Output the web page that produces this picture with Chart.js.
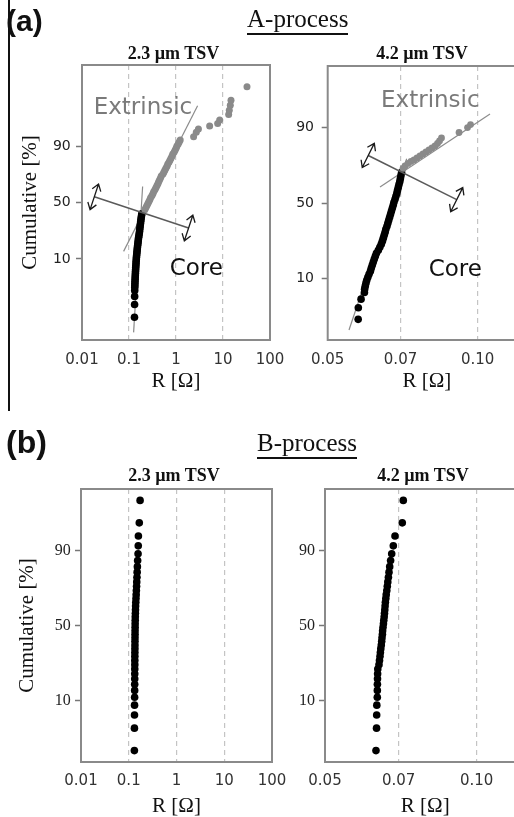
<!DOCTYPE html>
<html>
<head>
<meta charset="utf-8">
<script src="https://cdn.jsdelivr.net/npm/chart.js@4.4.1/dist/chart.umd.min.js"></script>
<style>
  body { margin: 0; background: #fff; overflow: hidden; }
  #page { position: relative; width: 514px; height: 817px; overflow: hidden; background: #fff; }
  canvas { position: absolute; }
  .txt { position: absolute; white-space: nowrap; line-height: 1; color: #111; }
  .panel { font-family: "Liberation Sans", Arial, sans-serif; font-weight: bold; }
  .proc { font: 25px "Liberation Serif", serif; }
  .sub { font: bold 18px "Liberation Serif", serif; transform: translateX(-50%); }
  .rule { position: absolute; background: #111; }
</style>
</head>
<body>
<div id="page">
  <canvas id="a23" width="290" height="400" style="left:0;top:0"></canvas>
  <canvas id="a42" width="240" height="400" style="left:290px;top:0"></canvas>
  <canvas id="b23" width="290" height="417" style="left:0;top:400px"></canvas>
  <canvas id="b42" width="240" height="417" style="left:290px;top:400px"></canvas>

  <div class="rule" style="left:8px;top:0;width:1.5px;height:411px"></div>
  <div class="txt panel" style="left:6px;top:6px;font-size:30px">(a)</div>
  <div class="txt proc" style="left:247px;top:5px">A-process</div>
  <div class="rule" style="left:247px;top:32.5px;width:101px;height:2px"></div>
  <div class="txt sub" style="left:173.5px;top:42.5px">2.3 µm TSV</div>
  <div class="txt sub" style="left:422px;top:42.5px">4.2 µm TSV</div>

  <div class="txt panel" style="left:6px;top:426px;font-size:32px">(b)</div>
  <div class="txt proc" style="left:257px;top:429px">B-process</div>
  <div class="rule" style="left:257px;top:456.5px;width:100px;height:2.5px"></div>
  <div class="txt sub" style="left:174px;top:465px">2.3 µm TSV</div>
  <div class="txt sub" style="left:423px;top:465px">4.2 µm TSV</div>
</div>

<script>
// tick positions
const yTicks = [10, 50, 90];
const xTicksWide = [0.01, 0.1, 1, 10, 100];
const xTicksNarrow = [0.05, 0.07, 0.10];

// A-process, 2.3 um TSV: core population (black) and extrinsic tail (gray)
const aCoreR23 = [0.1308, 0.1314, 0.1318, 0.1323, 0.1327, 0.1331, 0.1336, 0.1341, 0.1349, 0.1354, 0.1360, 0.1369, 0.1374, 0.1383, 0.1390, 0.1400, 0.1410, 0.1417, 0.1428, 0.1439, 0.1450, 0.1467, 0.1479, 0.1495, 0.1507, 0.1526, 0.1545, 0.1563, 0.1579, 0.1600, 0.1626, 0.1646, 0.1674, 0.1688, 0.1708, 0.1729, 0.1750, 0.1772, 0.1794, 0.1816, 0.1846, 0.1870];
const aCoreCum23 = [0.46, 1.03, 1.65, 2.28, 2.68, 2.97, 3.29, 3.64, 4.02, 4.42, 4.86, 5.34, 5.85, 6.39, 6.98, 7.61, 8.27, 8.99, 9.74, 10.55, 11.39, 12.29, 13.23, 14.23, 15.27, 16.36, 17.50, 18.70, 19.94, 21.22, 22.56, 23.94, 25.37, 26.84, 28.35, 29.91, 31.49, 33.12, 34.78, 36.46, 38.17, 39.91];
const aExtR23 = [0.2169, 0.2277, 0.2391, 0.2512, 0.2638, 0.2771, 0.2880, 0.3070, 0.3225, 0.3350, 0.3560, 0.3737, 0.3920, 0.4120, 0.4280, 0.4460, 0.4680, 0.4860, 0.5290, 0.5550, 0.5830, 0.6130, 0.6470, 0.6700, 0.7130, 0.7490, 0.7870, 0.8260, 0.8560, 0.9160, 0.9620, 1.010, 1.048, 1.114, 1.170, 1.229, 2.37, 2.70, 3.00, 5.20, 7.70, 8.50, 13.2, 13.6, 14.3, 14.8, 32.4];
const aExtCum23 = [43.44, 45.23, 47.02, 48.83, 50.63, 52.44, 54.23, 56.02, 57.80, 59.56, 61.31, 63.03, 64.72, 66.39, 68.02, 69.62, 71.19, 72.71, 74.19, 75.63, 77.03, 78.38, 79.68, 80.94, 82.14, 83.30, 84.41, 85.46, 86.47, 87.43, 88.34, 89.21, 90.02, 90.79, 91.52, 92.20, 93.23, 94.44, 95.22, 95.87, 96.37, 96.93, 97.72, 98.20, 98.64, 98.99, 99.57];
const aExtFitR23 = [0.0767, 2.88], aExtFitCum23 = [13.37, 98.59];
const aCoreFitR23 = [0.1253, 0.1948], aCoreFitCum23 = [0.16, 64.13];
const aCrossR23 = [0.01828, 1.854], aCrossCum23 = [55.13, 28.13];

// A-process, 4.2 um TSV
const aCoreR42 = [0.05756, 0.05760, 0.05833, 0.05925, 0.05930, 0.05947, 0.05966, 0.05988, 0.06018, 0.06052, 0.06090, 0.06114, 0.06142, 0.06170, 0.06199, 0.06230, 0.06262, 0.06317, 0.06361, 0.06405, 0.06438, 0.06465, 0.06492, 0.06519, 0.06540, 0.06574, 0.06601, 0.06628, 0.06656, 0.06684, 0.06711, 0.06739, 0.06767, 0.06790, 0.06824, 0.06852, 0.06881, 0.06903, 0.06928, 0.06951, 0.06977, 0.06996, 0.07015, 0.07035];
const aCoreCum42 = [2.41, 3.76, 5.13, 6.44, 7.18, 7.90, 8.67, 9.50, 10.39, 11.34, 12.35, 13.41, 14.54, 15.74, 16.99, 18.31, 19.68, 21.12, 22.62, 24.18, 25.80, 27.47, 29.18, 30.95, 32.77, 34.62, 36.52, 38.44, 40.40, 42.38, 44.38, 46.39, 48.41, 50.44, 52.47, 54.49, 56.49, 58.48, 60.45, 62.40, 64.31, 66.19, 68.02, 69.82];
const aExtR42 = [0.07081, 0.07147, 0.07246, 0.07347, 0.07450, 0.07554, 0.07659, 0.07766, 0.07874, 0.07984, 0.08096, 0.08209, 0.08304, 0.08381, 0.08459, 0.09174, 0.09541, 0.09674];
const aExtCum42 = [72.14, 73.54, 74.91, 75.98, 76.76, 77.78, 78.78, 79.75, 80.69, 81.60, 82.49, 83.35, 84.39, 85.38, 86.51, 88.43, 90.00, 90.86];
const aExtFitR42 = [0.06367, 0.10585], aExtFitCum42 = [60.65, 93.49];
const aCoreFitR42 = [0.05517, 0.07203], aCoreFitCum42 = [1.55, 77.38];
const aCrossR42 = [0.06031, 0.09076], aCrossCum42 = [79.02, 52.26];

// B-process: 42 TSVs per size, median-rank positions
const bCum = [1.65, 4.01, 6.37, 8.73, 11.08, 13.44, 15.80, 18.16, 20.52, 22.88, 25.24, 27.59, 29.95, 32.31, 34.67, 37.03, 39.39, 41.75, 44.10, 46.46, 48.82, 51.18, 53.54, 55.90, 58.25, 60.61, 62.97, 65.33, 67.69, 70.05, 72.41, 74.76, 77.12, 79.48, 81.84, 84.20, 86.56, 88.92, 91.27, 93.63, 95.99, 98.35];
const bR23 = [0.1312, 0.1316, 0.1319, 0.1322, 0.1327, 0.1330, 0.1332, 0.1334, 0.1335, 0.1337, 0.1339, 0.1340, 0.1342, 0.1344, 0.1346, 0.1348, 0.1350, 0.1352, 0.1354, 0.1356, 0.1359, 0.1362, 0.1366, 0.1370, 0.1378, 0.1385, 0.1392, 0.1404, 0.1418, 0.1430, 0.1444, 0.1458, 0.1470, 0.1486, 0.1500, 0.1515, 0.1535, 0.1566, 0.1582, 0.1593, 0.1662, 0.1728];
const bR42 = [0.06312, 0.06328, 0.06332, 0.06336, 0.06350, 0.06351, 0.06353, 0.06356, 0.06359, 0.06364, 0.06399, 0.06414, 0.06429, 0.06440, 0.06452, 0.06467, 0.06479, 0.06488, 0.06500, 0.06506, 0.06518, 0.06530, 0.06541, 0.06553, 0.06562, 0.06571, 0.06580, 0.06589, 0.06602, 0.06614, 0.06632, 0.06647, 0.06662, 0.06681, 0.06699, 0.06720, 0.06748, 0.06782, 0.06832, 0.06885, 0.07118, 0.07151];

// inverse standard normal CDF (Acklam)
function probit(p) {
  const a = [-39.69683028665376, 220.9460984245205, -275.9285104469687, 138.3577518672690, -30.66479806614716, 2.506628277459239];
  const b = [-54.47609879822406, 161.5858368580409, -155.6989798598866, 66.80131188771972, -13.28068155288572];
  const c = [-0.007784894002430293, -0.3223964580411365, -2.400758277161838, -2.549732539343734, 4.374664141464968, 2.938163982698783];
  const d = [0.007784695709041462, 0.3224671290700398, 2.445134137142996, 3.754408661907416];
  const tail = q => (((((c[0] * q + c[1]) * q + c[2]) * q + c[3]) * q + c[4]) * q + c[5]) /
                    ((((d[0] * q + d[1]) * q + d[2]) * q + d[3]) * q + 1);
  if (p < 0.02425) return tail(Math.sqrt(-2 * Math.log(p)));
  if (p > 0.97575) return -tail(Math.sqrt(-2 * Math.log(1 - p)));
  const q = p - 0.5, r = q * q;
  return (((((a[0] * r + a[1]) * r + a[2]) * r + a[3]) * r + a[4]) * r + a[5]) * q /
         (((((b[0] * r + b[1]) * r + b[2]) * r + b[3]) * r + b[4]) * r + 1);
}

function normCdf(z) {
  const t = 1 / (1 + 0.3275911 * Math.abs(z) / Math.SQRT2);
  const e = 1 - (((((1.061405429 * t - 1.453152027) * t + 1.421413741) * t - 0.284496736) * t + 0.254829592) * t) * Math.exp(-z * z / 2);
  return z >= 0 ? (1 + e) / 2 : (1 - e) / 2;
}

// normal probability axis, values in percent
class ProbabilityScale extends Chart.Scale {
  static id = 'probability';
  static defaults = {};
  determineDataLimits() {
    this.min = this.options.min;
    this.max = this.options.max;
  }
  buildTicks() { return []; }
  getLabelForValue(v) { return String(v); }
  configure() {
    super.configure();
    this._zMin = probit(this.min / 100);
    this._zMax = probit(this.max / 100);
  }
  getPixelForValue(v) {
    if (v === null || v === undefined || isNaN(v)) return NaN;
    const z = probit(v / 100);
    return this.getPixelForDecimal((z - this._zMin) / (this._zMax - this._zMin));
  }
  getValueForPixel(px) {
    const dec = this.getDecimalForPixel(px);
    return 100 * normCdf(this._zMin + dec * (this._zMax - this._zMin));
  }
}
Chart.register(ProbabilityScale);

const pts = (rs, cums) => rs.map((r, i) => ({ x: r, y: cums[i] }));

function dots(rs, cums, color, radius, order) {
  return { data: pts(rs, cums), pointRadius: radius, pointHoverRadius: radius,
           pointBackgroundColor: color, pointBorderWidth: 0, order };
}
function line(rs, cums, color, width, order) {
  return { data: pts(rs, cums), showLine: true, pointRadius: 0, borderColor: color,
           borderWidth: width, fill: false, order };
}

function doubleArrow(ctx, cx, cy, ux, uy, half) {
  const head = (hx, hy, dx, dy) => {
    const h = 6.5, w = 4.5;
    ctx.moveTo(hx - dx * h - dy * w, hy - dy * h + dx * w);
    ctx.lineTo(hx, hy);
    ctx.lineTo(hx - dx * h + dy * w, hy - dy * h - dx * w);
  };
  const x1 = cx - ux * half, y1 = cy - uy * half, x2 = cx + ux * half, y2 = cy + uy * half;
  ctx.beginPath();
  ctx.moveTo(x1, y1);
  ctx.lineTo(x2, y2);
  head(x2, y2, ux, uy);
  head(x1, y1, -ux, -uy);
  ctx.stroke();
}

// plot frame, arrows on the cross line, Extrinsic/Core labels
function overlay(notes) {
  return {
    id: 'overlay',
    afterDatasetsDraw(chart) {
      const { ctx, chartArea: a, scales: { x, y } } = chart;
      ctx.save();
      ctx.strokeStyle = '#8a8a8a';
      ctx.lineWidth = 2;
      ctx.strokeRect(a.left, a.top, a.right - a.left, a.bottom - a.top);
      if (notes.cross !== undefined) {
        const [p, q] = chart.getDatasetMeta(notes.cross).data;
        const dx = q.x - p.x, dy = q.y - p.y, len = Math.hypot(dx, dy);
        ctx.strokeStyle = '#1a1a1a';
        ctx.lineWidth = 1.3;
        [p, q].forEach(e => doubleArrow(ctx, e.x, e.y, -dy / len, dx / len, 13.5));
      }
      ctx.font = '23px "DejaVu Sans"';
      ctx.textAlign = 'left';
      ctx.textBaseline = 'alphabetic';
      (notes.labels || []).forEach(l => {
        ctx.fillStyle = l.color;
        ctx.fillText(l.text, x.getPixelForValue(l.r), y.getPixelForValue(l.cum));
      });
      ctx.restore();
    }
  };
}

const serif = size => ({ family: 'Liberation Serif', size, lineHeight: 1 });

function makeChart(id, o) {
  return new Chart(document.getElementById(id), {
    type: 'scatter',
    data: { datasets: o.datasets },
    options: {
      responsive: false,
      animation: false,
      events: [],
      devicePixelRatio: 1,
      layout: { padding: o.pad },
      plugins: { legend: { display: false }, tooltip: { enabled: false } },
      scales: {
        x: {
          type: 'logarithmic',
          min: o.xMin,
          max: o.xMax,
          afterBuildTicks: s => { s.ticks = o.xTicks.map(v => ({ value: v })); },
          afterFit: s => { s.height = o.xHeight; s.paddingLeft = 0; s.paddingRight = 0; },
          ticks: { callback: o.xFmt, font: { family: 'DejaVu Sans', size: 15 }, color: '#333',
                   padding: o.xTickPad, maxRotation: 0, autoSkip: false },
          grid: {
            color: c => (c.tick && c.tick.value > o.xMin && c.tick.value < o.xMax) ? '#c4c4c4' : 'transparent',
            lineWidth: 1.2,
            drawTicks: false
          },
          border: { display: false, dash: [5, 4] },
          title: { display: true, text: 'R [Ω]', font: serif(21), color: '#111',
                   padding: { top: 0, bottom: o.xTitlePad } }
        },
        y: {
          type: 'probability',
          min: o.yMin,
          max: o.yMax,
          afterBuildTicks: s => { s.ticks = yTicks.map(v => ({ value: v })); },
          afterFit: s => { s.width = o.yWidth; },
          ticks: { callback: v => String(v), font: o.yFont, color: '#222', padding: o.yTickPad },
          grid: { drawOnChartArea: false, tickLength: 6, tickColor: '#777', tickWidth: 1.5 },
          border: { display: false },
          title: { display: o.yTitle, text: 'Cumulative [%]', font: serif(21), color: '#111',
                   padding: { top: o.yTitlePad, bottom: 0 } }
        }
      }
    },
    plugins: [overlay(o.notes)]
  });
}

const wideFmt = v => String(v);
const narrowFmt = v => v.toFixed(2);
const sansTick = { family: 'DejaVu Sans', size: 14 };

makeChart('a23', {
  datasets: [
    line(aCrossR23, aCrossCum23, '#5a5a5a', 1.5, 0),
    dots(aExtR23, aExtCum23, '#8a8a8a', 3.5, 1),
    dots(aCoreR23, aCoreCum23, '#000', 3.8, 1),
    line(aExtFitR23, aExtFitCum23, '#8c8c8c', 1.2, 2),
    line(aCoreFitR23, aCoreFitCum23, '#8c8c8c', 1.2, 2)
  ],
  notes: { cross: 0, labels: [
    { text: 'Extrinsic', r: 0.0177, cum: 97.76, color: '#7a7a7a' },
    { text: 'Core', r: 0.7345, cum: 4.93, color: '#111' }
  ] },
  pad: { left: 0, top: 65, right: 20, bottom: 0 },
  xMin: 0.01, xMax: 100, xTicks: xTicksWide, xFmt: wideFmt,
  yMin: 0.09, yMax: 99.91,
  yWidth: 82, xHeight: 60, xTickPad: 11, xTitlePad: 8,
  yFont: sansTick, yTickPad: 5.3, yTitle: true, yTitlePad: 19.5
});

makeChart('a42', {
  datasets: [
    line(aCrossR42, aCrossCum42, '#5a5a5a', 1.5, 0),
    dots(aExtR42, aExtCum42, '#8a8a8a', 3.4, 1),
    dots(aCoreR42, aCoreCum42, '#000', 3.8, 1),
    line(aExtFitR42, aExtFitCum42, '#8c8c8c', 1.2, 2),
    line(aCoreFitR42, aCoreFitCum42, '#8c8c8c', 1.2, 2)
  ],
  notes: { cross: 0, labels: [
    { text: 'Extrinsic', r: 0.06397, cum: 94.92, color: '#7a7a7a' },
    { text: 'Core', r: 0.07974, cum: 10.80, color: '#111' }
  ] },
  pad: { left: 0, top: 66, right: 4, bottom: 0 },
  xMin: 0.05, xMax: 0.125, xTicks: xTicksNarrow, xFmt: narrowFmt,
  yMin: 1, yMax: 99,
  yWidth: 37.7, xHeight: 60, xTickPad: 11, xTitlePad: 8,
  yFont: sansTick, yTickPad: 7.7, yTitle: false, yTitlePad: 0
});

makeChart('b23', {
  datasets: [dots(bR23, bCum, '#000', 3.8, 1)],
  notes: {},
  pad: { left: 0, top: 89, right: 18, bottom: 0 },
  xMin: 0.01, xMax: 100, xTicks: xTicksWide, xFmt: wideFmt,
  yMin: 1, yMax: 99,
  yWidth: 81, xHeight: 55, xTickPad: 10, xTitlePad: 0,
  yFont: serif(16), yTickPad: 4.3, yTitle: true, yTitlePad: 16.5
});

makeChart('b42', {
  datasets: [dots(bR42, bCum, '#000', 3.8, 1)],
  notes: {},
  pad: { left: 0, top: 89, right: 4.5, bottom: 0 },
  xMin: 0.05, xMax: 0.125, xTicks: xTicksNarrow, xFmt: narrowFmt,
  yMin: 1, yMax: 99,
  yWidth: 35, xHeight: 55, xTickPad: 10, xTitlePad: 0,
  yFont: serif(16), yTickPad: 4, yTitle: false, yTitlePad: 0
});
</script>
</body>
</html>
